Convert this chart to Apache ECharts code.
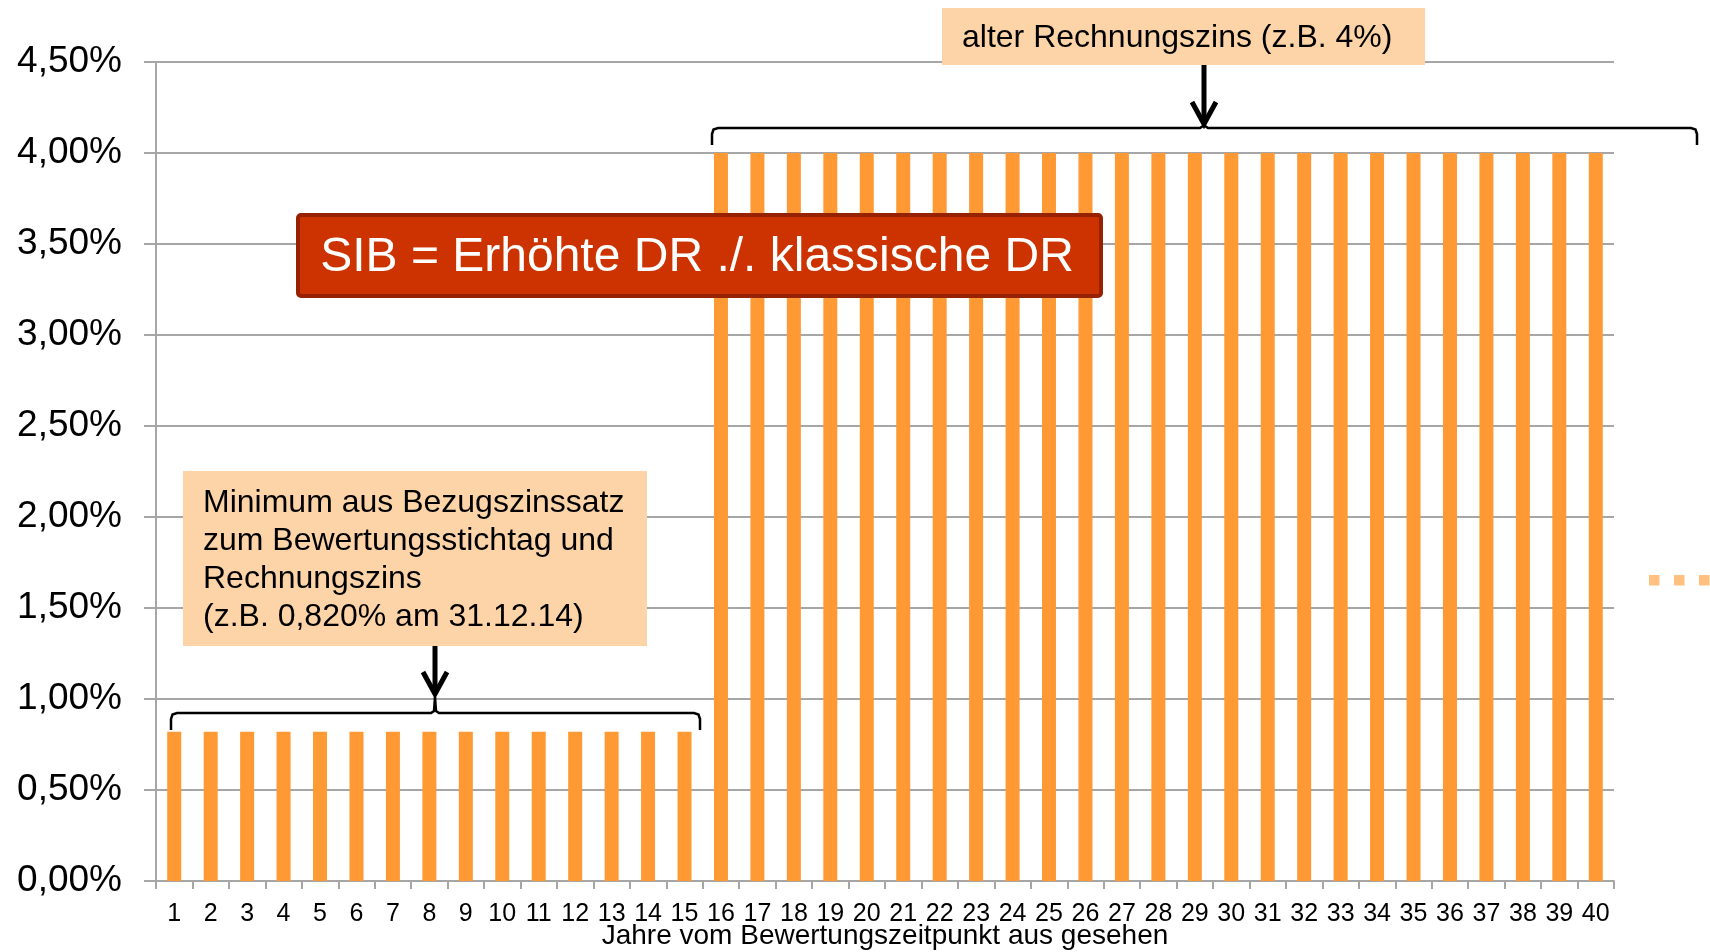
<!DOCTYPE html>
<html>
<head>
<meta charset="utf-8">
<script src="https://cdn.jsdelivr.net/npm/echarts@6/dist/echarts.min.js"></script>
<style>
  html, body { margin: 0; padding: 0; background: #fff; }
  #chart { width: 1710px; height: 952px; }
</style>
</head>
<body>
<div id="chart"></div>
<script>
// ---- data ----
var categories = ['1','2','3','4','5','6','7','8','9','10','11','12','13','14','15','16','17','18','19','20',
                  '21','22','23','24','25','26','27','28','29','30','31','32','33','34','35','36','37','38','39','40'];
var rates = [0.82,0.82,0.82,0.82,0.82,0.82,0.82,0.82,0.82,0.82,0.82,0.82,0.82,0.82,0.82,
             4.00,4.00,4.00,4.00,4.00,4.00,4.00,4.00,4.00,4.00,4.00,4.00,4.00,4.00,4.00,
             4.00,4.00,4.00,4.00,4.00,4.00,4.00,4.00,4.00,4.00];
var yMin = 0, yMax = 4.5, yStep = 0.5;
var xAxisTitle = 'Jahre vom Bewertungszeitpunkt aus gesehen';
var noteOld = 'alter Rechnungszins (z.B. 4%)';
var noteMin = 'Minimum aus Bezugszinssatz\nzum Bewertungsstichtag und\nRechnungszins\n(z.B. 0,820% am 31.12.14)';
var noteSIB = 'SIB = Erhöhte DR ./. klassische DR';

var FONT = "'Liberation Sans', Arial, Helvetica, sans-serif";
var GRID_GRAY = '#A6A6A6';
var PEACH = '#FDD4A8';

var chart = echarts.init(document.getElementById('chart'), null, { renderer: 'canvas' });

function brace(x0, x1, xm, yh, yb, ytip) {
  // bracket with rounded ends and a small peak in the middle
  return [
    [x0, yb], [x0, yh + 6], [x0 + 1.5, yh + 1.5], [x0 + 6, yh],
    [xm - 4, yh], [xm - 1, yh - 2], [xm, ytip], [xm + 1, yh - 2], [xm + 4, yh],
    [x1 - 6, yh], [x1 - 1.5, yh + 1.5], [x1, yh + 6], [x1, yb]
  ];
}

function arrow(x, y0, y1) {
  return [
    { type: 'line', shape: { x1: x, y1: y0, x2: x, y2: y1 - 2 },
      style: { stroke: '#000', lineWidth: 5 }, z: 20 },
    { type: 'polyline', shape: { points: [[x - 12, y1 - 22], [x, y1], [x + 12, y1 - 22]] },
      style: { stroke: '#000', lineWidth: 5, fill: null, lineJoin: 'miter' }, z: 20 }
  ];
}

var graphics = [];
// upper note box
graphics.push({ type: 'rect', shape: { x: 942, y: 8, width: 483, height: 57 },
  style: { fill: PEACH }, z: 15 });
graphics.push({ type: 'text', x: 962, y: 38, z: 16,
  style: { text: noteOld, fill: '#000', font: '32px ' + FONT, verticalAlign: 'middle', align: 'left' } });
graphics = graphics.concat(arrow(1204, 65, 124));
graphics.push({ type: 'polyline', shape: { points: brace(712, 1697, 1204, 128, 145, 123) },
  style: { stroke: '#000', lineWidth: 2.5, fill: null }, z: 20 });

// lower note box
graphics.push({ type: 'rect', shape: { x: 183, y: 471, width: 464, height: 175 },
  style: { fill: PEACH }, z: 15 });
graphics.push({ type: 'text', x: 203, y: 484, z: 16,
  style: { text: noteMin, fill: '#000', font: '32px ' + FONT, lineHeight: 38, verticalAlign: 'top', align: 'left' } });
graphics = graphics.concat(arrow(435, 646, 694));
graphics.push({ type: 'polyline', shape: { points: brace(171, 700, 435, 713, 730, 697) },
  style: { stroke: '#000', lineWidth: 2.5, fill: null }, z: 20 });

// SIB box
graphics.push({ type: 'rect', shape: { x: 298, y: 215, width: 803, height: 81, r: 3 },
  style: { fill: '#CC3300', stroke: '#962200', lineWidth: 4 }, z: 15 });
graphics.push({ type: 'text', x: 697, y: 258, z: 16,
  style: { text: noteSIB, fill: '#fff', font: '48px ' + FONT, verticalAlign: 'middle', align: 'center' } });

// continuation dots
[1649, 1674, 1699].forEach(function (x) {
  graphics.push({ type: 'rect', shape: { x: x, y: 575, width: 10.5, height: 10.5 },
    style: { fill: '#FFC080' }, z: 15 });
});

chart.setOption({
  backgroundColor: '#fff',
  animation: false,
  grid: { left: 156, right: 96, top: 62, bottom: 71, containLabel: false, outerBoundsMode: 'none' },
  xAxis: {
    type: 'category',
    data: categories,
    boundaryGap: true,
    name: xAxisTitle,
    nameLocation: 'middle',
    nameGap: 41,
    nameMoveOverlap: false,
    nameTextStyle: { fontFamily: FONT, fontSize: 28, color: '#000' },
    axisLine: { lineStyle: { color: GRID_GRAY, width: 2 } },
    axisTick: { show: true, length: 8, lineStyle: { color: GRID_GRAY, width: 2 } },
    axisLabel: { fontFamily: FONT, fontSize: 25, color: '#000', margin: 21, interval: 0 },
    splitLine: { show: false }
  },
  yAxis: {
    type: 'value',
    min: yMin, max: yMax, interval: yStep,
    axisLine: { show: true, lineStyle: { color: GRID_GRAY, width: 2 } },
    axisTick: { show: true, length: 12, lineStyle: { color: GRID_GRAY, width: 2 } },
    axisLabel: {
      fontFamily: FONT, fontSize: 37, color: '#000', margin: 34, padding: [4, 0, 0, 0],
      formatter: function (v) { return v.toFixed(2).replace('.', ',') + '%'; }
    },
    splitLine: { show: true, lineStyle: { color: GRID_GRAY, width: 2 } }
  },
  series: [{
    type: 'bar',
    data: rates,
    barWidth: 14,
    itemStyle: { color: '#FF9933' },
    z: 5
  }],
  graphic: graphics
});
</script>
</body>
</html>
